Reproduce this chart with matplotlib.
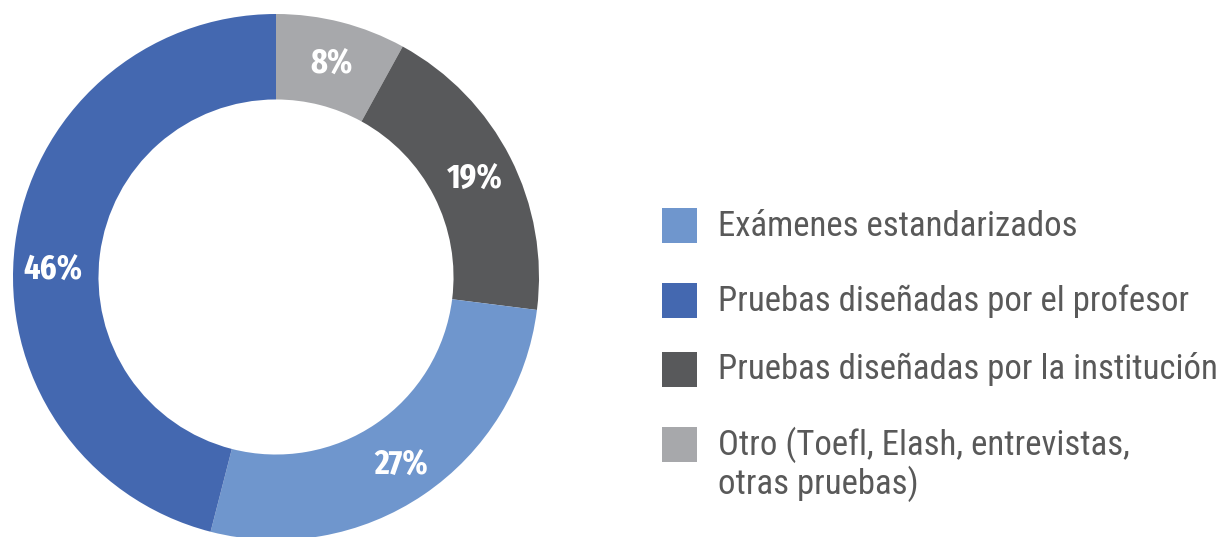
import matplotlib
matplotlib.use("Agg")
import matplotlib.pyplot as plt
import numpy as np
from matplotlib.patches import Rectangle
from matplotlib import font_manager

# data, clockwise from 12 o'clock
categories = [
    "Otro (Toefl, Elash, entrevistas,\notras pruebas)",
    "Pruebas diseñadas por la institución",
    "Exámenes estandarizados",
    "Pruebas diseñadas por el profesor",
]
values = [8, 19, 27, 46]
colors = ["#A7A8AB", "#58595B", "#6F96CD", "#4468B0"]

# legend order as shown on the right
legend_order = [2, 3, 1, 0]


def pick(cands):
    names = {f.name for f in font_manager.fontManager.ttflist}
    for c in cands:
        if c in names:
            return c
    return "DejaVu Sans"


text_font = pick(["Roboto Condensed", "Archivo Narrow", "Fira Sans Condensed"])
label_font = pick(["Fira Sans Extra Condensed", "Roboto Condensed", "Archivo Narrow"])

W, H = 1228, 537
fig = plt.figure(figsize=(W / 100, H / 100), dpi=100)

# donut: centre (276, 277) px, outer radius 263 px
cx, cy, r = 276, 277, 263
ax = fig.add_axes([(cx - r) / W, (H - cy - r) / H, 2 * r / W, 2 * r / H])
wedges, _ = ax.pie(
    values,
    colors=colors,
    startangle=90,
    counterclock=False,
    radius=1.0,
    wedgeprops=dict(width=0.325, linewidth=0),
)
ax.set_xlim(-1, 1)
ax.set_ylim(-1, 1)
ax.set_aspect("equal")
ax.axis("off")

# percentage labels sit mid-ring; the big slice's label is nudged toward 9 o'clock
angle_nudge = [0, 0, 0, 4.5]
half_cap = 12 / r  # half the cap height, in data units
for v, w, dn in zip(values, wedges, angle_nudge):
    mid = np.deg2rad((w.theta1 + w.theta2) / 2 + dn)
    ax.text(0.848 * np.cos(mid), 0.848 * np.sin(mid) - half_cap, f"{v}%",
            ha="center", va="baseline", color="white", fontsize=25,
            fontweight="bold", family=label_font)

# legend drawn by hand on a pixel-space overlay
lax = fig.add_axes([0, 0, 1, 1])
lax.set_xlim(0, W)
lax.set_ylim(H, 0)
lax.axis("off")
row_y = [225.5, 300, 369, 444.5]
line_gap = 39
for y, i in zip(row_y, legend_order):
    lax.add_patch(Rectangle((662, y - 17.5), 35, 35, color=colors[i], lw=0))
    for k, line in enumerate(categories[i].split("\n")):
        lax.text(718, y + 10.5 + k * line_gap, line, ha="left", va="baseline",
                 fontsize=25, color="#595959", family=text_font)

fig.savefig("out.png", dpi=100)
